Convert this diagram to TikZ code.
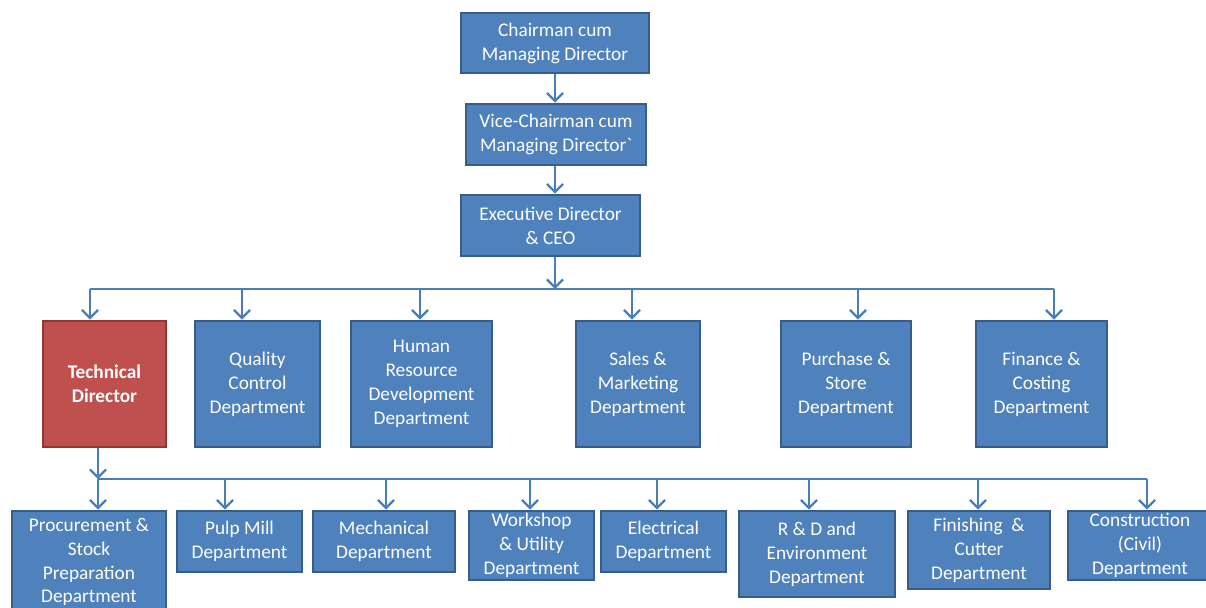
\documentclass[tikz,border=0pt]{standalone}
\usepackage{fontspec}
\setmainfont{Carlito}
\usetikzlibrary{arrows.meta}

\definecolor{cajaazul}{HTML}{4F81BD}
\definecolor{bordeazul}{HTML}{385D8A}
\definecolor{cajaroja}{HTML}{C0504D}
\definecolor{borderoja}{HTML}{8C3836}
\definecolor{linea}{HTML}{4A7EBB}

\tikzset{
  caja/.style={draw=bordeazul, fill=cajaazul, line width=1.6pt, text=white,
    align=center, inner sep=1pt, font=\fontsize{11}{13.6}\selectfont},
  cajaroja/.style={caja, draw=borderoja, fill=cajaroja,
    font=\fontsize{11}{13.6}\selectfont\bfseries},
  flecha/.style={draw=linea, line width=1.3pt, ->},
  bus/.style={draw=linea, line width=1.3pt}
}

\begin{document}
\begin{tikzpicture}[>={Straight Barb[length=1.6mm,width=3.2mm]}]
        \useasboundingbox (0,0) rectangle (24.12,-12.14);

        % Direccion
        \node[caja, minimum width=3.76cm, minimum height=1.20cm] (cmd) at (11.10,-0.86) {Chairman cum\\Managing Director};
        \node[caja, minimum width=3.60cm, minimum height=1.22cm] (vcmd) at (11.12,-2.69) {Vice-Chairman cum\\Managing Director\textasciigrave};
        \node[caja, minimum width=3.58cm, minimum height=1.22cm] (ceo) at (11.01,-4.51) {Executive Director\\\& CEO};

        % Segundo nivel
        \node[cajaroja, minimum width=2.46cm, minimum height=2.52cm] (tecnico) at (2.09,-7.68) {Technical\\Director};
        \node[caja, minimum width=2.50cm, minimum height=2.52cm] (calidad) at (5.15,-7.68) {Quality\\Control\\Department};
        \node[caja, minimum width=2.82cm, minimum height=2.52cm] (rrhh) at (8.43,-7.68) {Human\\Resource\\Development\\Department};
        \node[caja, minimum width=2.48cm, minimum height=2.52cm] (ventas) at (12.76,-7.68) {Sales \&\\Marketing\\Department};
        \node[caja, minimum width=2.60cm, minimum height=2.52cm] (compras) at (16.92,-7.68) {Purchase \&\\Store\\Department};
        \node[caja, minimum width=2.62cm, minimum height=2.52cm] (finanzas) at (20.83,-7.68) {Finance \&\\Costing\\Department};

        % Tercer nivel
        \node[caja, minimum width=3.08cm, minimum height=2.04cm] (compra) at (1.78,-11.24) {Procurement \&\\Stock\\Preparation\\Department};
        \node[caja, minimum width=2.50cm, minimum height=1.22cm] (pulpa) at (4.79,-10.83) {Pulp Mill\\Department};
        \node[caja, minimum width=2.84cm, minimum height=1.22cm] (mecanico) at (7.68,-10.83) {Mechanical\\Department};
        \node[caja, minimum width=2.50cm, minimum height=1.38cm] (taller) at (10.63,-10.91) {Workshop\\\& Utility\\Department};
        \node[caja, minimum width=2.50cm, minimum height=1.22cm] (electrico) at (13.27,-10.83) {Electrical\\Department};
        \node[caja, minimum width=3.12cm, minimum height=1.72cm] (id) at (16.34,-11.08) {R \& D and\\Environment\\Department};
        \node[caja, minimum width=2.84cm, minimum height=1.56cm] (acabado) at (19.58,-11.00) {Finishing \ \&\\Cutter\\Department};
        \node[caja, minimum width=2.88cm, minimum height=1.38cm] (civil) at (22.80,-10.91) {Construction\\(Civil)\\Department};

        % Puntos de las barras
        \coordinate (b1) at (11.10,-5.78);
        \coordinate (b1a) at (1.80,-5.78);
        \coordinate (b1b) at (4.84,-5.78);
        \coordinate (b1c) at (8.40,-5.78);
        \coordinate (b1d) at (12.64,-5.78);
        \coordinate (b1e) at (17.16,-5.78);
        \coordinate (b1f) at (21.08,-5.78);
        \coordinate (b2) at (1.96,-9.58);
        \coordinate (b2b) at (4.50,-9.58);
        \coordinate (b2c) at (7.72,-9.58);
        \coordinate (b2d) at (10.60,-9.58);
        \coordinate (b2e) at (13.14,-9.58);
        \coordinate (b2f) at (16.18,-9.58);
        \coordinate (b2g) at (19.56,-9.58);
        \coordinate (b2h) at (22.94,-9.58);

        % Flechas de arriba
        \draw[flecha] (cmd.south -| b1) -- (vcmd.north -| b1);
        \draw[flecha] (vcmd.south -| b1) -- (ceo.north -| b1);
        \draw[flecha] (ceo.south -| b1) -- (b1);

        % Barra del segundo nivel
        \draw[bus] (b1a) -- (b1f);
        \draw[flecha] (b1a) -- (b1a |- tecnico.north);
        \draw[flecha] (b1b) -- (b1b |- calidad.north);
        \draw[flecha] (b1c) -- (b1c |- rrhh.north);
        \draw[flecha] (b1d) -- (b1d |- ventas.north);
        \draw[flecha] (b1e) -- (b1e |- compras.north);
        \draw[flecha] (b1f) -- (b1f |- finanzas.north);

        % Barra del tercer nivel
        \draw[flecha] (tecnico.south -| b2) -- (b2);
        \draw[bus] (b2) -- (b2h);
        \draw[flecha] (b2) -- (b2 |- compra.north);
        \draw[flecha] (b2b) -- (b2b |- pulpa.north);
        \draw[flecha] (b2c) -- (b2c |- mecanico.north);
        \draw[flecha] (b2d) -- (b2d |- taller.north);
        \draw[flecha] (b2e) -- (b2e |- electrico.north);
        \draw[flecha] (b2f) -- (b2f |- id.north);
        \draw[flecha] (b2g) -- (b2g |- acabado.north);
        \draw[flecha] (b2h) -- (b2h |- civil.north);

    \end{tikzpicture}
\end{document}
